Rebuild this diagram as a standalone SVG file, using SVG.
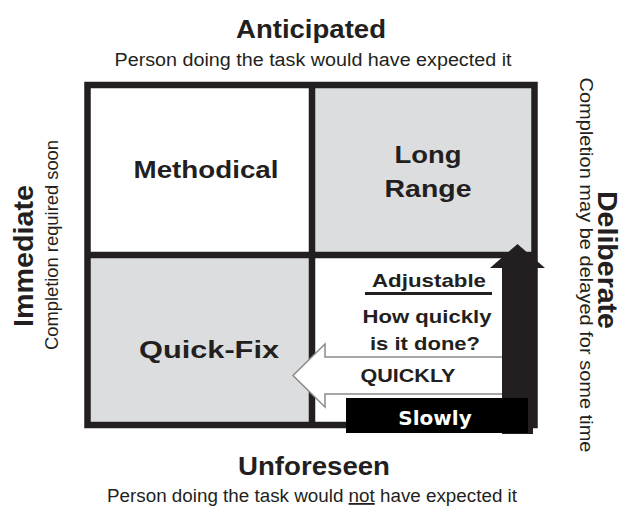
<svg xmlns="http://www.w3.org/2000/svg" width="622" height="508" viewBox="0 0 622 508">
<style>
.b{font-family:"Liberation Sans",Arial,sans-serif;font-weight:bold;fill:#231f20;text-anchor:middle}
.r{font-family:"Liberation Sans",Arial,sans-serif;fill:#231f20;text-anchor:middle}
.g{fill:#dcdddf}
.ln{stroke:#231f20;stroke-width:6.5;fill:none}
</style>
<rect width="622" height="508" fill="#fff"/>
<g id="header">
<text class="b" x="311" y="38" font-size="26" textLength="150" lengthAdjust="spacingAndGlyphs">Anticipated</text>
<text class="r" x="313" y="66" font-size="18" textLength="397" lengthAdjust="spacingAndGlyphs">Person doing the task would have expected it</text>
</g>
<g id="footer">
<text class="b" x="314" y="475" font-size="26" textLength="152" lengthAdjust="spacingAndGlyphs">Unforeseen</text>
<text class="r" x="312" y="502" font-size="18" textLength="410" lengthAdjust="spacingAndGlyphs">Person doing the task would <tspan text-decoration="underline">not</tspan> have expected it</text>
</g>
<g id="left-label">
<text class="b" transform="translate(33,256) rotate(-90)" font-size="27" textLength="142" lengthAdjust="spacingAndGlyphs">Immediate</text>
<text class="r" transform="translate(58,245) rotate(-90)" font-size="18" textLength="210" lengthAdjust="spacingAndGlyphs">Completion required soon</text>
</g>
<g id="right-label">
<text class="b" transform="translate(598,260) rotate(90)" font-size="27" textLength="138" lengthAdjust="spacingAndGlyphs">Deliberate</text>
<text class="r" transform="translate(580,265) rotate(90)" font-size="18" textLength="375" lengthAdjust="spacingAndGlyphs">Completion may be delayed for some time</text>
</g>
<g id="methodical">
<rect x="87.5" y="85" width="224.5" height="170" fill="#fff"/>
<text class="b" x="206" y="178" font-size="24" textLength="145" lengthAdjust="spacingAndGlyphs">Methodical</text>
</g>
<g id="long-range">
<rect x="312" y="85" width="222.5" height="170" class="g"/>
<text class="b" x="428" y="163" font-size="24" textLength="67" lengthAdjust="spacingAndGlyphs">Long</text>
<text class="b" x="428" y="197" font-size="24" textLength="87" lengthAdjust="spacingAndGlyphs">Range</text>
</g>
<g id="quick-fix">
<rect x="87.5" y="255" width="224.5" height="170" class="g"/>
<text class="b" x="209" y="358" font-size="24" textLength="140" lengthAdjust="spacingAndGlyphs">Quick-Fix</text>
</g>
<g id="adjustable">
<rect x="312" y="255" width="222.5" height="170" fill="#fff"/>
<text class="b" x="429" y="287" font-size="19" textLength="114" lengthAdjust="spacingAndGlyphs">Adjustable</text>
<rect x="365" y="292" width="127" height="3" fill="#231f20"/>
<text class="b" x="427" y="323" font-size="19" textLength="129" lengthAdjust="spacingAndGlyphs">How quickly</text>
<text class="b" x="425" y="350" font-size="19" textLength="110" lengthAdjust="spacingAndGlyphs">is it done?</text>
</g>
<g id="grid">
<rect x="87.5" y="85" width="447" height="340" class="ln"/>
<line x1="312" y1="85" x2="312" y2="425" class="ln"/>
<line x1="87.5" y1="255" x2="534.5" y2="255" class="ln"/>
</g>
<g id="connectors">
<polygon points="503,357 325,357 325,344 293,375.5 325,407 325,394 503,394" fill="#fff" stroke="#8a8a8a" stroke-width="1.5"/>
<text class="b" x="408" y="382" font-size="19" textLength="95" lengthAdjust="spacingAndGlyphs">QUICKLY</text>
<polygon points="502,434 502,268 490,268 517.5,244 545,268 533,268 533,434" fill="#231f20"/>
<rect x="346" y="398" width="182" height="35" fill="#000"/>
<text x="435" y="425" font-family="'DejaVu Sans',sans-serif" font-weight="bold" font-size="20" fill="#fff" text-anchor="middle">Slowly</text>
</g>
</svg>
